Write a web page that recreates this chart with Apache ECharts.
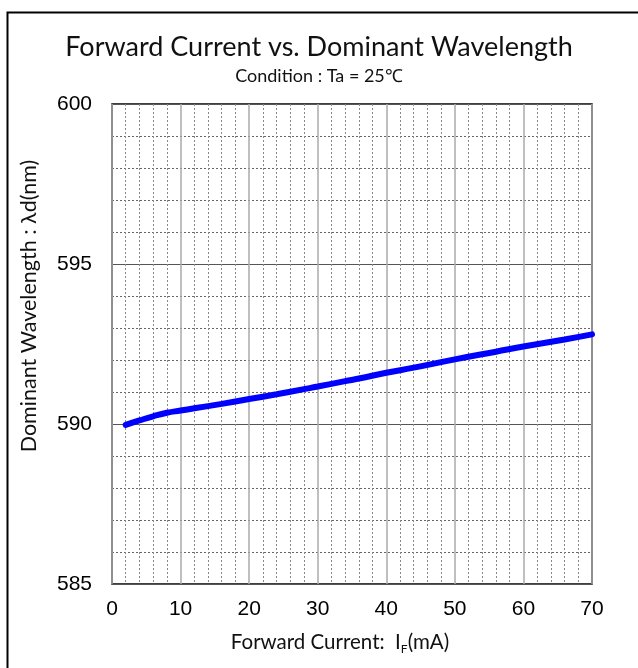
<!DOCTYPE html>
<html>
<head>
<meta charset="utf-8">
<script src="https://cdn.jsdelivr.net/npm/echarts@6/dist/echarts.min.js"></script>
<style>html,body{margin:0;padding:0;background:#fff;}#c{width:638px;height:668px;}</style>
</head>
<body>
<div id="c"></div>
<script>
const currents = [2, 4, 6, 8, 10, 12, 16, 20, 24, 28, 30, 34, 36, 40, 44, 50, 56, 60, 66, 70];
const wavelengths = [589.97, 590.11, 590.24, 590.35, 590.42, 590.49, 590.63, 590.78, 590.93, 591.09, 591.17, 591.34, 591.42, 591.6, 591.76, 592.02, 592.26, 592.42, 592.64, 592.8];
const xTicks = [0, 10, 20, 30, 40, 50, 60, 70];
const yTicks = [585, 590, 595, 600];
const titleText = 'Forward Current vs. Dominant Wavelength';
const subText = 'Condition : Ta = 25\u2103';

const chart = echarts.init(document.getElementById('c'), null, {renderer: 'canvas'});
chart.setOption({
  backgroundColor: '#fff',
  animation: false,
  title: {
    text: titleText,
    subtext: subText,
    left: 'center',
    top: 29,
    itemGap: 6,
    textStyle: {fontFamily: 'Lato', fontWeight: 'normal', fontSize: 27, color: '#111'},
    subtextStyle: {fontFamily: 'Lato', fontSize: 18, color: '#111'}
  },
  graphic: [{
    type: 'rect', left: 5, top: 10, z: 100, silent: true,
    shape: {width: 660, height: 700},
    style: {fill: 'none', stroke: '#000', lineWidth: 2}
  }],
  grid: {left: 112, right: 46, top: 104, bottom: 84, show: true, borderColor: '#000', borderWidth: 1.5, containLabel: false},
  xAxis: {
    type: 'value', min: xTicks[0], max: xTicks[xTicks.length - 1], interval: 10,
    name: '{n|Forward Current:  I}{s|F}{n|(mA)}',
    nameLocation: 'middle', nameGap: 46,
    nameTextStyle: {padding: [0, 24, 0, 0], rich: {
      n: {fontFamily: 'Lato', fontSize: 20.5, color: '#111'},
      s: {fontFamily: 'Lato', fontSize: 12, color: '#111', padding: [13, 0, 0, 0]}
    }},
    axisLine: {show: false}, axisTick: {show: false},
    axisLabel: {fontFamily: 'Liberation Sans', fontSize: 21, color: '#000', margin: 15},
    splitLine: {show: true, lineStyle: {color: '#aaa', width: 1.5}},
    minorTick: {show: false, splitNumber: 5},
    minorSplitLine: {show: true, lineStyle: {color: '#888', width: 1, type: [2, 2]}}
  },
  yAxis: {
    type: 'value', min: yTicks[0], max: yTicks[yTicks.length - 1], interval: 5,
    name: 'Dominant Wavelength : \u03bbd(nm)',
    nameLocation: 'middle', nameGap: 72,
    nameTextStyle: {fontFamily: 'Lato', fontSize: 21.5, color: '#111', padding: [0, 0, 0, 76]},
    axisLine: {show: false}, axisTick: {show: false},
    axisLabel: {fontFamily: 'Liberation Sans', fontSize: 21, color: '#000', margin: 20},
    splitLine: {show: true, lineStyle: {color: '#555', width: 1.2}},
    minorTick: {show: false, splitNumber: 5},
    minorSplitLine: {show: true, lineStyle: {color: '#666', width: 1, type: [2, 2]}}
  },
  series: [{
    type: 'line', smooth: true, showSymbol: false,
    data: currents.map((c, i) => [c, wavelengths[i]]),
    lineStyle: {color: '#0000ff', width: 6, cap: 'round'},
    itemStyle: {color: '#0000ff'}
  }]
});
</script>
</body>
</html>
